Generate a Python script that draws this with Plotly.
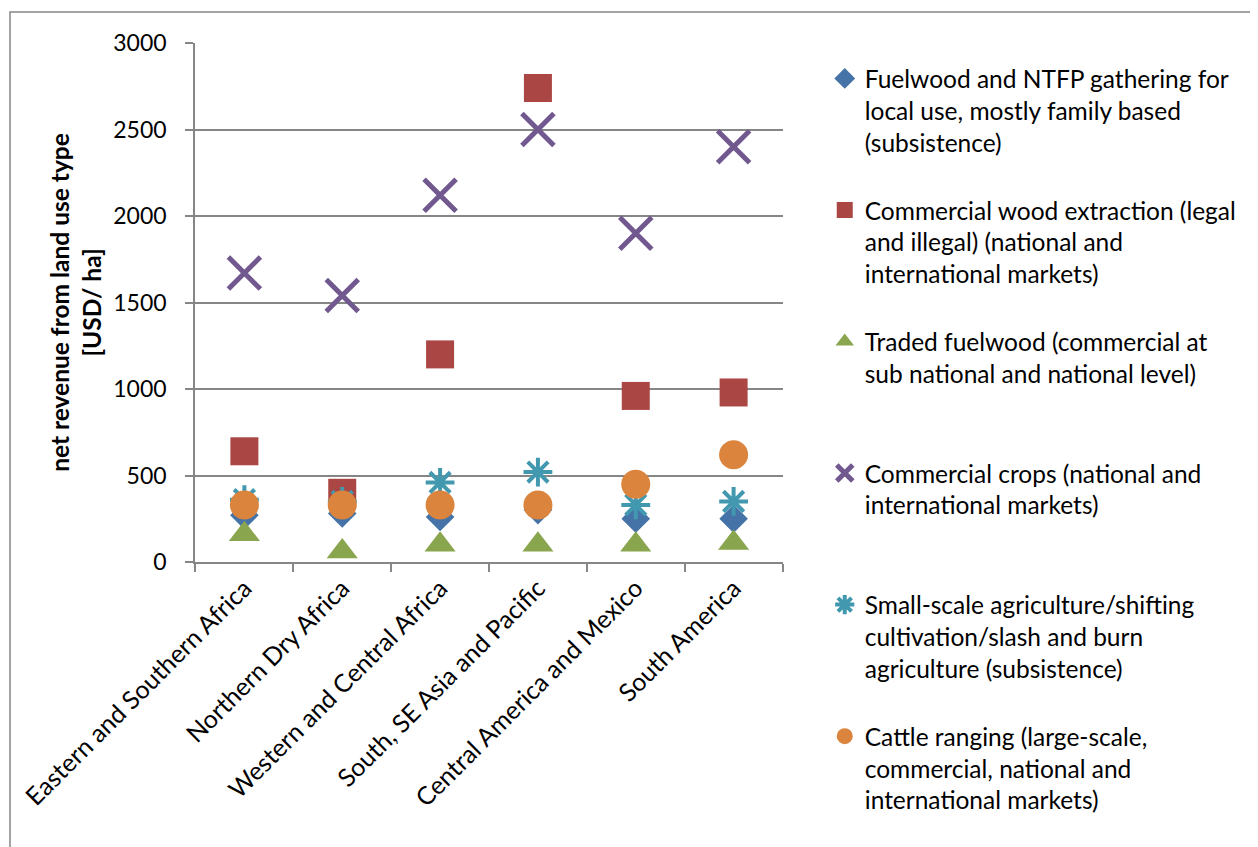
import plotly.graph_objects as go

categories = ["Eastern and Southern Africa", "Northern Dry Africa", "Western and Central Africa",
              "South, SE Asia and Pacific", "Central America and Mexico", "South America"]

fuelwood_ntfp = [270, 280, 260, 300, 250, 250]
commercial_wood = [640, 400, 1200, 2740, 960, 980]
traded_fuelwood = [160, 60, 100, 100, 100, 110]
commercial_crops = [1670, 1540, 2120, 2500, 1900, 2400]
small_scale_agri = [360, 350, 460, 520, 330, 350]
cattle_ranging = [330, 330, 330, 330, 450, 620]

series_names = [
    "Fuelwood and NTFP gathering for<br>local use, mostly family based<br>(subsistence)",
    "Commercial wood extraction (legal<br>and illegal) (national and<br>international markets)",
    "Traded fuelwood (commercial at<br>sub national and national level)<br> ",
    "Commercial crops (national and<br>international markets)<br> ",
    "Small-scale agriculture/shifting<br>cultivation/slash and burn<br>agriculture (subsistence)",
    "Cattle ranging (large-scale,<br>commercial, national and<br>international markets)",
]
y_ticks = [0, 500, 1000, 1500, 2000, 2500, 3000]

FONT = "Lato"
fig = go.Figure()

styles = [
    dict(symbol="diamond", size=22, color="#4572A7"),
    dict(symbol="square", size=28, color="#AA4643"),
    dict(symbol="triangle-up", size=27, color="#89A54E"),
    dict(symbol="x-thin", size=32, color="#71588F", line=dict(width=5, color="#71588F")),
    dict(symbol="asterisk", size=24, color="#4198AF", line=dict(width=4, color="#4198AF")),
    dict(symbol="circle", size=29, color="#DB843D"),
]
data = [fuelwood_ntfp, commercial_wood, traded_fuelwood, commercial_crops, small_scale_agri, cattle_ranging]

for i, (name, vals, st) in enumerate(zip(series_names, data, styles)):
    marker = dict(symbol=st["symbol"], size=st["size"], color=st["color"])
    if "line" in st:
        marker["line"] = st["line"]
    else:
        marker["line"] = dict(width=0)
    fig.add_trace(go.Scatter(
        x=categories, y=vals, mode="markers", name=name, marker=marker,
        legendgroup=f"g{i}", cliponaxis=False,
    ))

# page body adds an 8px offset; plot area in figure coords: x 187-775, y 35-554
fig.update_layout(
    width=1258, height=847,
    paper_bgcolor="white", plot_bgcolor="white",
    margin=dict(l=187, r=483, t=35, b=293),
    font=dict(family=FONT, size=23, color="#000000"),
    showlegend=True,
    legend=dict(
        x=1.071, y=0.975, xanchor="left", yanchor="top",
        valign="top", tracegroupgap=33, itemwidth=30, maxheight=1000,
        font=dict(family=FONT, size=24.5, color="#000000"),
        bgcolor="rgba(0,0,0,0)",
    ),
    shapes=[dict(type="rect", xref="paper", yref="paper",
                 x0=(2 - 187) / 588, x1=(1290 - 187) / 588,
                 y0=(554 - 900) / 519, y1=(554 - 4) / 519,
                 line=dict(color="#868686", width=1.5), fillcolor="rgba(0,0,0,0)", layer="below")],
)

fig.update_xaxes(
    type="category", tickangle=-45, tickson="boundaries",
    ticks="outside", ticklen=8, tickcolor="#868686", tickwidth=1.5,
    showline=True, linecolor="#868686", linewidth=1.5,
    showgrid=False, tickfont=dict(family=FONT, size=25, color="#000000"),
)
fig.update_yaxes(
    range=[0, 3000], tickvals=y_ticks,
    ticks="outside", ticklen=8, tickcolor="#868686", tickwidth=1.5,
    ticklabelstandoff=14,
    showline=True, linecolor="#868686", linewidth=1.5,
    showgrid=True, gridcolor="#868686", gridwidth=1.5, zeroline=False,
    tickfont=dict(family=FONT, size=23, color="#000000"),
    title=dict(text="<b>net revenue from land use type<br>[USD/ ha]</b>",
               font=dict(family=FONT, size=24.5, color="#000000"), standoff=5),
)

fig.write_html("out.html")
